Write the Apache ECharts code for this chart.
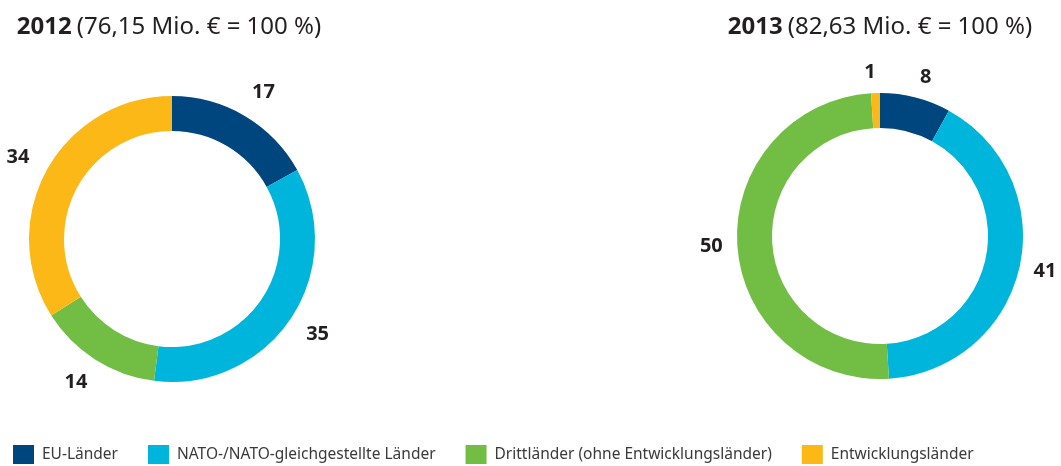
<!DOCTYPE html>
<html>
<head>
<meta charset="utf-8">
<script src="https://cdn.jsdelivr.net/npm/echarts@6/dist/echarts.min.js"></script>
<style>
  html, body { margin: 0; padding: 0; background: #fff; }
  #chart { width: 1061px; height: 466px; }
</style>
</head>
<body>
<div id="chart"></div>
<script>
// Kategorien (Legende)
const categories = ['EU-Länder', 'NATO-/NATO-gleichgestellte Länder', 'Drittländer (ohne Entwicklungsländer)', 'Entwicklungsländer'];
const colors = ['#00467e', '#00b5dc', '#72be44', '#fbb817'];
// Anteile in %
const values2012 = [17, 35, 14, 34];
const values2013 = [8, 41, 50, 1];
// Titel
const years = ['2012', '2013'];
const totals = ['(76,15 Mio. € = 100 %)', '(82,63 Mio. € = 100 %)'];

const font = 'Noto Sans';

function makeData(vals) {
    return vals.map((v, i) => ({ name: categories[i], value: v, itemStyle: { color: colors[i] } }));
}

function pieSeries(vals, center, labelDist) {
    return {
        type: 'pie',
        center: center,
        radius: [108, 143],
        startAngle: 90,
        clockwise: true,
        avoidLabelOverlap: false,
        silent: true,
        label: {
            show: true,
            position: 'outside',
            formatter: '{c}',
            color: '#231f20',
            fontFamily: font,
            fontWeight: 'bold',
            fontSize: 20
        },
        labelLine: { show: false, length: labelDist, length2: 0 },
        labelLayout: { align: 'center', verticalAlign: 'middle' },
        data: makeData(vals)
    };
}

const titleStyle = {
    rich: {
        b: { fontFamily: font, fontWeight: 'bold', fontSize: 24, color: '#231f20' },
        n: { fontFamily: font, fontWeight: 'normal', fontSize: 24, color: '#231f20' }
    }
};

const chart = echarts.init(document.getElementById('chart'));
chart.setOption({
    animation: false,
    title: [
        { text: '{b|' + years[0] + '} {n|' + totals[0] + '}', left: 164, top: 10, textAlign: 'center', textStyle: titleStyle },
        { text: '{b|' + years[1] + '} {n|' + totals[1] + '}', left: 875, top: 10, textAlign: 'center', textStyle: titleStyle }
    ],
    legend: {
        data: categories,
        left: 13,
        top: 445,
        padding: 0,
        icon: 'rect',
        itemWidth: 21,
        itemHeight: 19,
        itemGap: 30,
        selectedMode: false,
        textStyle: { fontFamily: font, fontSize: 15.5, color: '#3a3a3a', padding: [0, 0, 0, 3] }
    },
    series: [
        pieSeries(values2012, [172, 239], 27),
        pieSeries(values2013, [880, 236], 21)
    ]
});
</script>
</body>
</html>
